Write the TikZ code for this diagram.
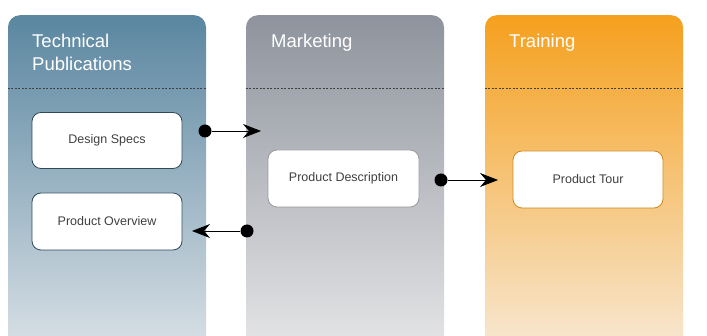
\documentclass[tikz,border=0pt]{standalone}
\usepackage{fontspec}
\setmainfont{Liberation Sans}
\usetikzlibrary{arrows.meta,positioning,calc}

\definecolor{techtop}{HTML}{5A86A0}
\definecolor{techmid}{HTML}{9EBBD1}
\definecolor{techbot}{HTML}{DDE3E8}
\definecolor{mkttop}{HTML}{8E939D}
\definecolor{mktmid}{HTML}{B9C3C1}
\definecolor{mktbot}{HTML}{E8E8E9}
\definecolor{trntop}{HTML}{F5A01E}
\definecolor{trnmid}{HTML}{F8C47E}
\definecolor{trnbot}{HTML}{F7EAD8}
\definecolor{txtgray}{HTML}{404040}

\begin{document}
\begin{tikzpicture}[
    x=1pt, y=-1pt,
    lane/.style={rectangle, rounded corners=12pt, minimum width=198pt, minimum height=345pt,
                 anchor=north, inner sep=0pt},
    hdr/.style={font=\fontsize{18.5}{23}\selectfont, text=white, align=left, anchor=base west,
                inner sep=0pt},
    item/.style={rectangle, rounded corners=9pt, draw, fill=white, minimum width=150pt,
                 minimum height=56pt, font=\fontsize{12.5}{15}\selectfont, text=txtgray,
                 line width=0.8pt},
    sep/.style={black!75, line width=0.5pt, dash pattern=on 2pt off 1.5pt},
    dot/.style={circle, fill=black, inner sep=0pt, minimum size=13pt},
    link/.style={-{Stealth[length=18pt,width=14pt,inset=6pt]}, line width=0.8pt}
  ]
  \useasboundingbox (0,0) rectangle (707,336);

  % --- lanes ---
  \node[lane, top color=techtop, middle color=techmid, bottom color=techbot] (ctech) at (107,15) {};
  \node[lane, top color=mkttop, middle color=mktmid, bottom color=mktbot] (cmkt) at (345,15) {};
  \node[lane, top color=trntop, middle color=trnmid, bottom color=trnbot] (ctrn) at (584,15) {};

  % --- headers ---
  \node[hdr] (htech) at (32,71) {Technical\\Publications};
  \node[hdr] (hmkt) at (271,48) {Marketing};
  \node[hdr] (htrn) at (509,48) {Training};

  \draw[sep] (ctech.west |- 0,88) -- (ctech.east |- 0,88);
  \draw[sep] (cmkt.west |- 0,88) -- (cmkt.east |- 0,88);
  \draw[sep] (ctrn.west |- 0,88) -- (ctrn.east |- 0,88);

  % --- documents ---
  \node[item, draw=black!45!techtop] (ds) at (107,140.5) {Design Specs};
  \node[item, draw=black!45!techtop, minimum height=57pt] (po) at (107,221.5) {Product Overview};
  \node[item, draw=black!40, minimum width=151pt, minimum height=57pt] (pd) at (343.5,178.5) {Product Description};
  \node[item, draw=trntop!85!black, minimum height=57pt] (pt) at (588,179.5) {Product Tour};

  % --- hand-offs ---
  \node[dot] (d1) at (205,131) {};
  \coordinate (a1) at (261,131);
  \node[dot] (d2) at (247,231) {};
  \coordinate (a2) at (192,231);
  \node[dot] (d3) at (441,180) {};
  \coordinate (a3) at (498,180);

  \draw[link] (d1) -- (a1);
  \draw[link] (d2) -- (a2);
  \draw[link] (d3) -- (a3);
\end{tikzpicture}
\end{document}
